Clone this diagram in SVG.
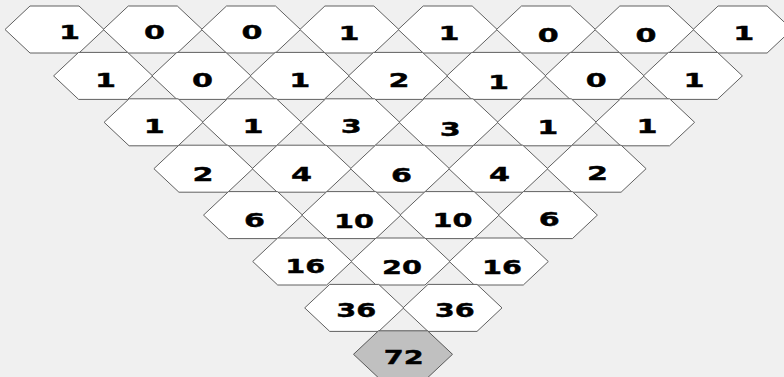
<svg xmlns="http://www.w3.org/2000/svg" xmlns:xlink="http://www.w3.org/1999/xlink" width="784" height="377" viewBox="0 0 784 377">
<style>
.hex{fill:#ffffff;stroke:#606060;stroke-width:1}
.hex.sum{fill:#c0c0c0;stroke:#585858}
.t{font-family:"DejaVu Sans","Liberation Sans",sans-serif;font-weight:bold;font-size:20px;fill:#000;stroke:#000;stroke-width:0.4;text-anchor:middle}
</style>
<defs>
<polygon id="hx" points="-49.5,0 -24.5,-23.5 24.5,-23.5 49.5,0 24.5,23.5 -24.5,23.5"/>
</defs>
<rect width="784" height="377" fill="#f0f0f0"/>
<g id="nodes">
<!-- row 0 -->
<g id="r0c0"><use href="#hx" class="hex" x="54.5" y="29.5"/><text class="t" x="69.5" y="39" textLength="21" lengthAdjust="spacingAndGlyphs">1</text></g>
<g id="r0c1"><use href="#hx" class="hex" x="152.8" y="29.5"/><text class="t" x="154.5" y="39" textLength="21" lengthAdjust="spacingAndGlyphs">0</text></g>
<g id="r0c2"><use href="#hx" class="hex" x="251" y="29.5"/><text class="t" x="252" y="39" textLength="21" lengthAdjust="spacingAndGlyphs">0</text></g>
<g id="r0c3"><use href="#hx" class="hex" x="349.4" y="29.5"/><text class="t" x="349" y="40" textLength="21" lengthAdjust="spacingAndGlyphs">1</text></g>
<g id="r0c4"><use href="#hx" class="hex" x="447.7" y="29.5"/><text class="t" x="449" y="40" textLength="21" lengthAdjust="spacingAndGlyphs">1</text></g>
<g id="r0c5"><use href="#hx" class="hex" x="546" y="29.5"/><text class="t" x="548.3" y="42" textLength="21" lengthAdjust="spacingAndGlyphs">0</text></g>
<g id="r0c6"><use href="#hx" class="hex" x="644.3" y="29.5"/><text class="t" x="646" y="42" textLength="21" lengthAdjust="spacingAndGlyphs">0</text></g>
<g id="r0c7"><use href="#hx" class="hex" x="742.6" y="29.5"/><text class="t" x="743.7" y="40" textLength="21" lengthAdjust="spacingAndGlyphs">1</text></g>
<!-- row 1 -->
<g id="r1c0"><use href="#hx" class="hex" x="103.1" y="75.9"/><text class="t" x="105.5" y="87" textLength="21" lengthAdjust="spacingAndGlyphs">1</text></g>
<g id="r1c1"><use href="#hx" class="hex" x="201.4" y="75.9"/><text class="t" x="202.5" y="87" textLength="21" lengthAdjust="spacingAndGlyphs">0</text></g>
<g id="r1c2"><use href="#hx" class="hex" x="299.7" y="75.9"/><text class="t" x="299.8" y="87" textLength="21" lengthAdjust="spacingAndGlyphs">1</text></g>
<g id="r1c3"><use href="#hx" class="hex" x="398" y="75.9"/><text class="t" x="399" y="87" textLength="21" lengthAdjust="spacingAndGlyphs">2</text></g>
<g id="r1c4"><use href="#hx" class="hex" x="496.3" y="75.9"/><text class="t" x="498.5" y="88.5" textLength="21" lengthAdjust="spacingAndGlyphs">1</text></g>
<g id="r1c5"><use href="#hx" class="hex" x="594.6" y="75.9"/><text class="t" x="596.3" y="87" textLength="21" lengthAdjust="spacingAndGlyphs">0</text></g>
<g id="r1c6"><use href="#hx" class="hex" x="692.9" y="75.9"/><text class="t" x="694" y="87" textLength="21" lengthAdjust="spacingAndGlyphs">1</text></g>
<!-- row 2 -->
<g id="r2c0"><use href="#hx" class="hex" x="153.6" y="122.3"/><text class="t" x="154.3" y="133" textLength="21" lengthAdjust="spacingAndGlyphs">1</text></g>
<g id="r2c1"><use href="#hx" class="hex" x="251.9" y="122.3"/><text class="t" x="253" y="133" textLength="21" lengthAdjust="spacingAndGlyphs">1</text></g>
<g id="r2c2"><use href="#hx" class="hex" x="350.2" y="122.3"/><text class="t" x="351.3" y="133" textLength="21" lengthAdjust="spacingAndGlyphs">3</text></g>
<g id="r2c3"><use href="#hx" class="hex" x="448.5" y="122.3"/><text class="t" x="450.2" y="135.5" textLength="21" lengthAdjust="spacingAndGlyphs">3</text></g>
<g id="r2c4"><use href="#hx" class="hex" x="546.8" y="122.3"/><text class="t" x="547.7" y="134" textLength="21" lengthAdjust="spacingAndGlyphs">1</text></g>
<g id="r2c5"><use href="#hx" class="hex" x="645.1" y="122.3"/><text class="t" x="647" y="133" textLength="21" lengthAdjust="spacingAndGlyphs">1</text></g>
<!-- row 3 -->
<g id="r3c0"><use href="#hx" class="hex" x="203.4" y="168.7"/><text class="t" x="203" y="181" textLength="21" lengthAdjust="spacingAndGlyphs">2</text></g>
<g id="r3c1"><use href="#hx" class="hex" x="301.7" y="168.7"/><text class="t" x="301.5" y="181" textLength="21" lengthAdjust="spacingAndGlyphs">4</text></g>
<g id="r3c2"><use href="#hx" class="hex" x="400" y="168.7"/><text class="t" x="401.4" y="182" textLength="21" lengthAdjust="spacingAndGlyphs">6</text></g>
<g id="r3c3"><use href="#hx" class="hex" x="498.3" y="168.7"/><text class="t" x="499.6" y="181" textLength="21" lengthAdjust="spacingAndGlyphs">4</text></g>
<g id="r3c4"><use href="#hx" class="hex" x="596.6" y="168.7"/><text class="t" x="597.5" y="180" textLength="21" lengthAdjust="spacingAndGlyphs">2</text></g>
<!-- row 4 -->
<g id="r4c0"><use href="#hx" class="hex" x="253" y="215.1"/><text class="t" x="254.6" y="227" textLength="21" lengthAdjust="spacingAndGlyphs">6</text></g>
<g id="r4c1"><use href="#hx" class="hex" x="351.3" y="215.1"/><text class="t" x="354" y="228" textLength="40" lengthAdjust="spacingAndGlyphs">10</text></g>
<g id="r4c2"><use href="#hx" class="hex" x="449.6" y="215.1"/><text class="t" x="452.6" y="227" textLength="40" lengthAdjust="spacingAndGlyphs">10</text></g>
<g id="r4c3"><use href="#hx" class="hex" x="547.9" y="215.1"/><text class="t" x="549.3" y="226" textLength="21" lengthAdjust="spacingAndGlyphs">6</text></g>
<!-- row 5 -->
<g id="r5c0"><use href="#hx" class="hex" x="302.2" y="261.5"/><text class="t" x="305.3" y="273" textLength="40" lengthAdjust="spacingAndGlyphs">16</text></g>
<g id="r5c1"><use href="#hx" class="hex" x="400.5" y="261.5"/><text class="t" x="402" y="274" textLength="40" lengthAdjust="spacingAndGlyphs">20</text></g>
<g id="r5c2"><use href="#hx" class="hex" x="498.8" y="261.5"/><text class="t" x="502" y="274" textLength="40" lengthAdjust="spacingAndGlyphs">16</text></g>
<!-- row 6 -->
<g id="r6c0"><use href="#hx" class="hex" x="354.2" y="307.9"/><text class="t" x="356.2" y="317" textLength="40" lengthAdjust="spacingAndGlyphs">36</text></g>
<g id="r6c1"><use href="#hx" class="hex" x="452.5" y="307.9"/><text class="t" x="454.7" y="317" textLength="40" lengthAdjust="spacingAndGlyphs">36</text></g>
<!-- row 7 -->
<g id="r7c0"><use href="#hx" class="hex sum" x="403" y="354.3"/><text class="t" x="403.8" y="364" textLength="40" lengthAdjust="spacingAndGlyphs">72</text></g>
</g>
</svg>
